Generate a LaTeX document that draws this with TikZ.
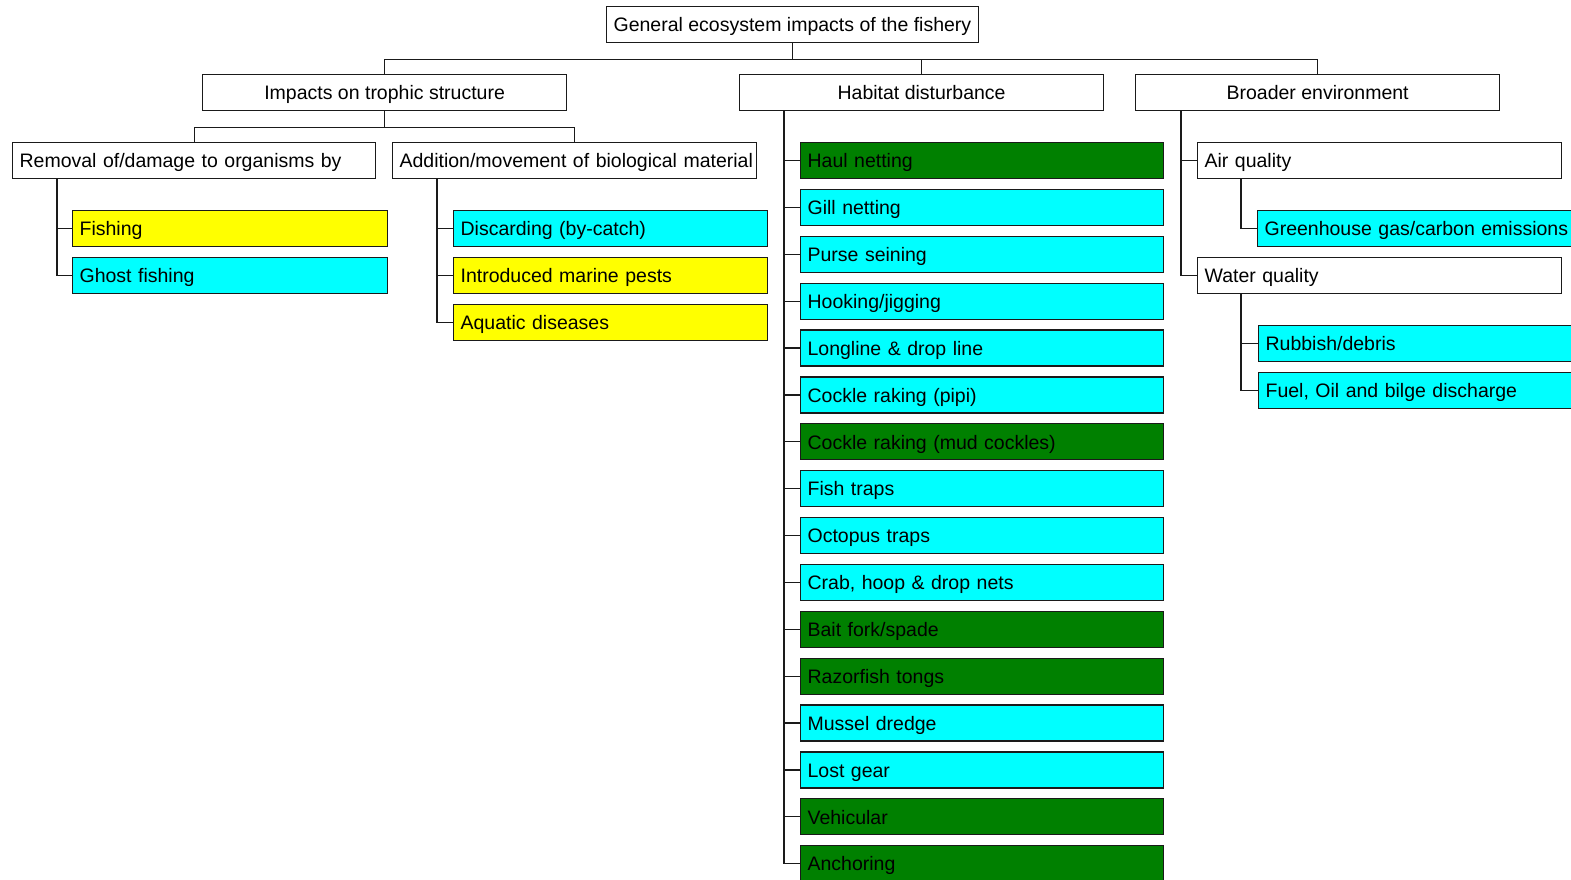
\documentclass[tikz,border=0pt]{standalone}
\usepackage{fontspec}
\setmainfont{Liberation Sans}
\definecolor{fillY}{HTML}{FFFF00}
\definecolor{fillC}{HTML}{00FFFF}
\definecolor{fillG}{HTML}{008000}
\definecolor{edge}{HTML}{1A1A1A}
\begin{document}
\begin{tikzpicture}[x=1pt,y=-1pt,
  box/.style={draw=edge, line width=1.2pt, anchor=north west, inner xsep=7pt, inner ysep=0pt,
    minimum height=36pt, font=\fontsize{19.5}{23}\selectfont, text height=14.5pt, text depth=0pt},
  cbox/.style={box, minimum width=#1},
  lbox/.style={box, text width=#1, align=left},
  conn/.style={draw=edge, line width=1.2pt}
]
\useasboundingbox (0,0) rectangle (1571,880);
\clip (0,0) rectangle (1571,880);

% top levels
\node[cbox=370pt] (root) at (606,6) {General ecosystem impacts of the fishery};
\node[cbox=364pt] (imp) at (202,74) {Impacts on trophic structure};
\node[cbox=364pt] (hab) at (739,74) {Habitat disturbance};
\node[cbox=364pt] (bro) at (1135,74) {Broader environment};

\draw[conn] (root.south) -- ++(0,16) -| (imp.north);
\draw[conn] (root.south) -- ++(0,16) -| (hab.north);
\draw[conn] (root.south) -- ++(0,16) -| (bro.north);

% trophic structure
\node[lbox=349pt] (rem) at (12,142) {\mbox{Removal of/damage to organisms by}};
\node[lbox=350pt] (add) at (392,142) {\mbox{Addition/movement of biological material}};
\draw[conn] (imp.south) -- ++(0,16) -| (rem.north);
\draw[conn] (imp.south) -- ++(0,16) -| (add.north);

\node[lbox=301pt, fill=fillY] (fish) at (72,210) {Fishing};
\node[lbox=301pt, fill=fillC] (ghost) at (72,257) {Ghost fishing};
\draw[conn] ([xshift=45pt]rem.south west) |- (fish.west);
\draw[conn] ([xshift=45pt]rem.south west) |- (ghost.west);

\node[lbox=300pt, fill=fillC] (disc) at (453,210) {Discarding (by-catch)};
\node[lbox=300pt, fill=fillY] (pest) at (453,257) {Introduced marine pests};
\node[lbox=300pt, fill=fillY] (dise) at (453,304) {Aquatic diseases};
\foreach \n in {disc,pest,dise}
  \draw[conn] ([xshift=45pt]add.south west) |- (\n.west);

% habitat disturbance
\foreach \t/\c [count=\i from 0] in {
  {Haul netting}/fillG, {Gill netting}/fillC, {Purse seining}/fillC,
  {Hooking/jigging}/fillC, {Longline \& drop line}/fillC,
  {Cockle raking (pipi)}/fillC, {Cockle raking (mud cockles)}/fillG,
  {Fish traps}/fillC, {Octopus traps}/fillC, {Crab, hoop \& drop nets}/fillC,
  {Bait fork/spade}/fillG, {Razorfish tongs}/fillG, {Mussel dredge}/fillC,
  {Lost gear}/fillC, {Vehicular}/fillG, {Anchoring}/fillG}
{
  \node[lbox=349pt, fill=\c] (h\i) at (800,142+46.87*\i) {\t};
  \draw[conn] ([xshift=45pt]hab.south west) |- (h\i.west);
}

% broader environment
\node[lbox=350pt] (air) at (1197,142) {Air quality};
\node[lbox=350pt] (wat) at (1197,257) {Water quality};
\draw[conn] ([xshift=46pt]bro.south west) |- (air.west);
\draw[conn] ([xshift=46pt]bro.south west) |- (wat.west);

\node[lbox=350pt, fill=fillC] (ghg) at (1257,210) {\mbox{Greenhouse gas/carbon emissions}};
\draw[conn] ([xshift=44pt]air.south west) |- (ghg.west);

\node[lbox=350pt, fill=fillC] (rub) at (1258,325) {Rubbish/debris};
\node[lbox=350pt, fill=fillC] (fuel) at (1258,372) {Fuel, Oil and bilge discharge};
\draw[conn] ([xshift=44pt]wat.south west) |- (rub.west);
\draw[conn] ([xshift=44pt]wat.south west) |- (fuel.west);
\end{tikzpicture}
\end{document}
